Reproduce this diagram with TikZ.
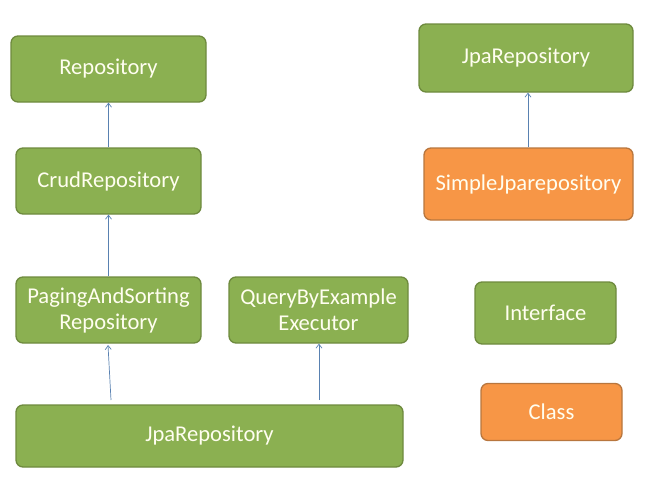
\documentclass[tikz,border=0pt]{standalone}
\usepackage{fontspec}
\setmainfont{Carlito}
\usetikzlibrary{arrows.meta}
\definecolor{gfill}{HTML}{8BB051}
\definecolor{gdraw}{HTML}{6E8A3E}
\definecolor{ofill}{HTML}{F79646}
\definecolor{odraw}{HTML}{B8763E}
\definecolor{arr}{HTML}{4F81BD}
\tikzset{
  box/.style={rounded corners=7pt, line width=1.3pt, text=white!94!yellow,
    font=\fontsize{22.6}{26}\selectfont, align=center, inner sep=0pt},
  gbox/.style={box, fill=gfill, draw=gdraw},
  obox/.style={box, fill=ofill, draw=odraw},
  link/.style={draw=arr!80!gray, line width=0.7pt, -{Straight Barb[length=4pt,width=6pt]}},
}
\begin{document}
\begin{tikzpicture}[x=1pt,y=-1pt]
\useasboundingbox (0,0) rectangle (657,491);
\node[gbox, minimum width=195, minimum height=66] (repo) at (108.5,69) {Repository};
\node[gbox, minimum width=185, minimum height=66] (crud) at (108.5,181) {CrudRepository};
\node[gbox, minimum width=185, minimum height=66] (paging) at (108.5,310) {PagingAndSorting\\Repository};
\node[gbox, minimum width=179, minimum height=66] (qbe) at (318.5,310) {QueryByExample\\Executor};
\node[gbox, minimum width=387, minimum height=62] (jpa) at (209.5,436) {JpaRepository};
\node[gbox, minimum width=214, minimum height=68] (jpa2) at (526,58) {JpaRepository};
\node[obox, minimum width=209, minimum height=72] (simple) at (528.5,184) {SimpleJparepository};
\node[gbox, minimum width=141, minimum height=62] (iface) at (545.5,313) {Interface};
\node[obox, minimum width=141, minimum height=57] (cls) at (551.5,412) {Class};
\coordinate (j1) at (111,400);
\coordinate (j2) at (319,400);
\path[link] (crud.north) -- (repo.south);
\path[link] (paging.north) -- (crud.south);
\path[link] (j1) -- (108,345);
\path[link] (j2) -- (qbe.south -| j2);
\path[link] (simple.north -| 528,0) -- (jpa2.south -| 528,0);
\end{tikzpicture}
\end{document}
